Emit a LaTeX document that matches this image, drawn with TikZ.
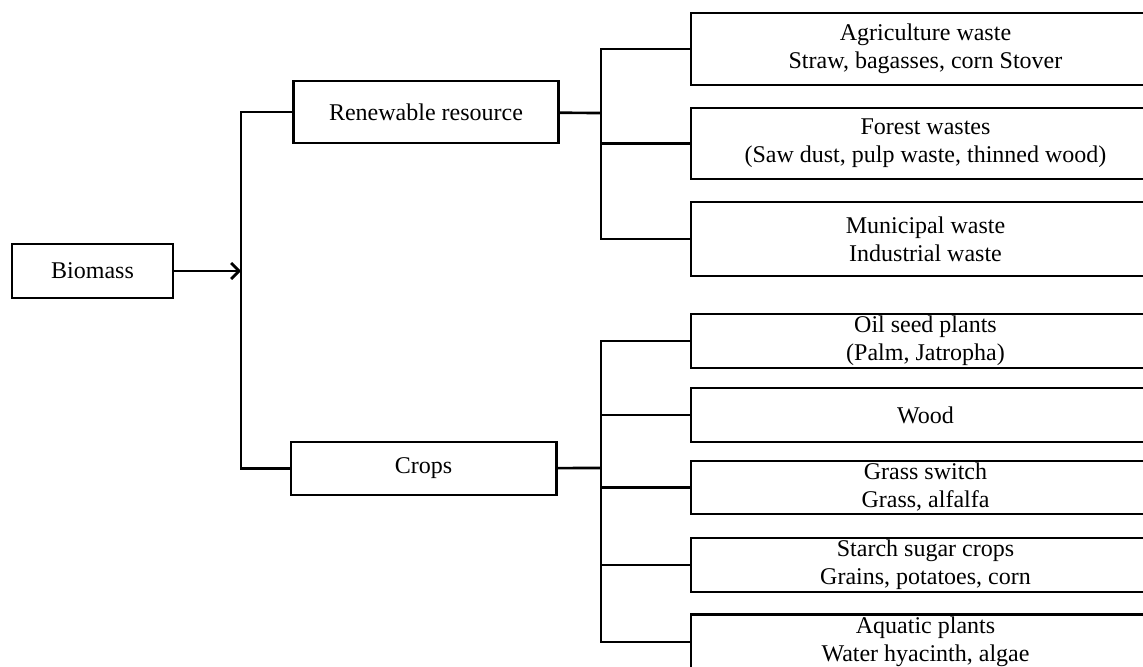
\documentclass[tikz,border=0pt]{standalone}
\usepackage{fontspec}
\setmainfont{Liberation Serif}
\usetikzlibrary{positioning,arrows.meta}

\begin{document}
\begin{tikzpicture}[x=0.75pt,y=-0.75pt,line width=2pt,
  every node/.style={rectangle,draw,inner sep=0pt,align=center,font=\fontsize{18}{21}\selectfont},
  Lbox/.style={minimum width=120.75pt,minimum height=40.5pt},
  Mbox/.style={minimum width=199pt},
  Rbox/.style={minimum width=351.75pt},
  >={Straight Barb[length=6pt,width=12pt]}
]
\clip (0,0) rectangle (1143,667);

% the source
\node[Lbox] (bio) at (92.5,271) {Biomass};

% the two groups
\node[Mbox,minimum height=46.5pt] (ren) at (426,112) {Renewable resource};
\node[Mbox,minimum height=39.75pt] (crops) at (423.5,468.5) {Crops};

% the wastes
\foreach \y/\h/\n/\t in {49/54/agri/{Agriculture waste\\Straw, bagasses, corn Stover},
    143.5/53.25/forest/{Forest wastes\\(Saw dust, pulp waste, thinned wood)},
    239/55.5/muni/{Municipal waste\\Industrial waste}}
  \node[Rbox,minimum height={\h pt}] (\n) at (925.5,\y) {\t};

% the crops
\foreach \y/\h/\n/\t in {341/40.5/oil/{Oil seed plants\\(Palm, Jatropha)},
    415/40.5/wood/{Wood},
    487.5/39.75/grass/{Grass switch\\Grass, alfalfa},
    565/40.5/starch/{Starch sugar crops\\Grains, potatoes, corn},
    642/41.25/aqua/{Aquatic plants\\Water hyacinth, algae}}
  \node[Rbox,minimum height={\h pt}] (\n) at (925.5,\y) {\t};

% the joints
\coordinate (jA) at (241,271);
\coordinate (jR) at (601,113);
\coordinate (jC) at (601,468);

% the edges
\draw[->] (bio) -- (jA);
\draw (ren.west) -| (jA) |- (crops.west);
\draw (ren) -- (jR);
\draw (agri.west) -| (jR) |- (muni.west);
\draw (forest.west) -- (jR |- forest.west);
\draw (crops) -- (jC);
\draw (oil.west) -| (jC) |- (aqua.west);
\foreach \n in {wood,grass,starch}
  \draw (\n.west) -- (jC |- \n.west);

\end{tikzpicture}
\end{document}
